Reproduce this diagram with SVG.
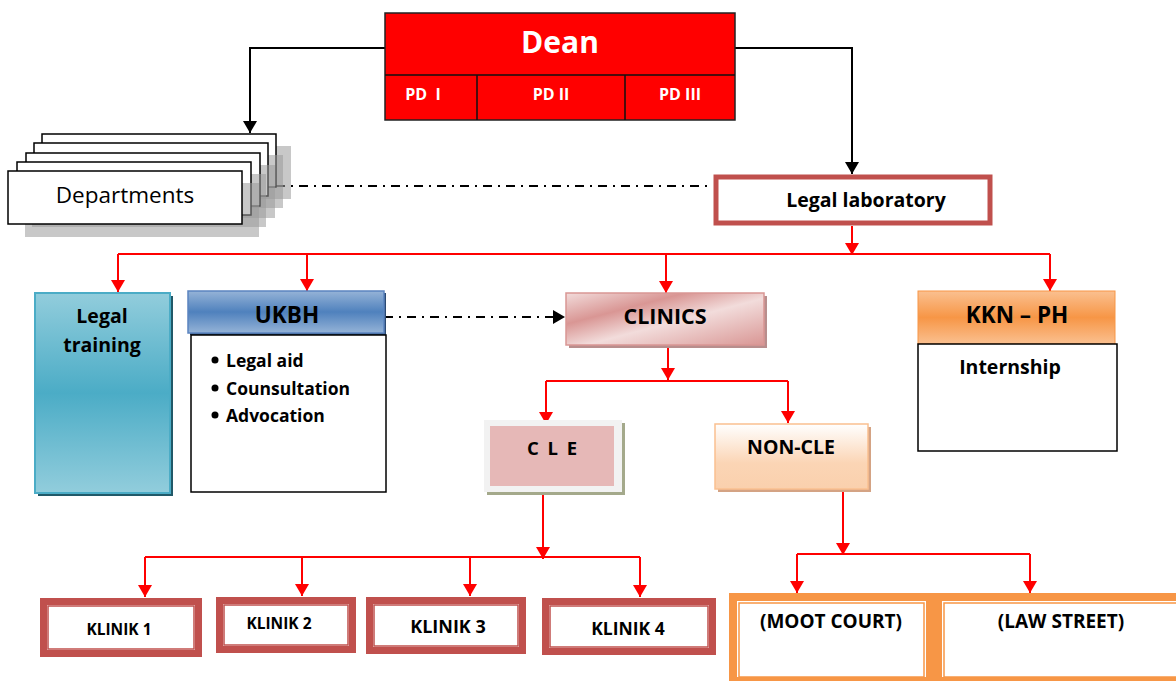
<svg xmlns="http://www.w3.org/2000/svg" width="1176" height="681" viewBox="0 0 1176 681">
<style>
text{font-family:"Open Sans","Liberation Sans",sans-serif;font-weight:bold;fill:#000;text-anchor:middle;dominant-baseline:central}
.w{fill:#fff}
.red{stroke:#ff0000;stroke-width:2;fill:none}
.blk{stroke:#000;stroke-width:2;fill:none}
.dd{stroke:#000;stroke-width:2;fill:none;stroke-dasharray:9 6 2 6}
.dep{fill:#fff;stroke:#000;stroke-width:1.5}
.sh{fill:#9a9a9a;opacity:0.55}
.kl{fill:#fff;stroke:#c0504d;stroke-width:7}
.kli{fill:none;stroke:#c0504d;stroke-width:1.5}
.oc{fill:#fff;stroke:#f79646;stroke-width:8}
.oci{fill:none;stroke:#f79646;stroke-width:1.5}
</style>
<defs>
<marker id="ar" viewBox="0 0 12 14" refX="12" refY="7" markerWidth="12" markerHeight="14" orient="auto" markerUnits="userSpaceOnUse"><path d="M0,0 L12,7 L0,14 z" fill="#ff0000"/></marker>
<marker id="ab" viewBox="0 0 12 14" refX="12" refY="7" markerWidth="12" markerHeight="14" orient="auto" markerUnits="userSpaceOnUse"><path d="M0,0 L12,7 L0,14 z" fill="#000"/></marker>
<linearGradient id="gTeal" x1="0" y1="0" x2="0" y2="1"><stop offset="0" stop-color="#92cddc"/><stop offset="0.5" stop-color="#4bacc6"/><stop offset="1" stop-color="#92cddc"/></linearGradient>
<linearGradient id="gBlue" x1="0" y1="0" x2="0" y2="1"><stop offset="0" stop-color="#95b3d7"/><stop offset="0.5" stop-color="#4f81bd"/><stop offset="1" stop-color="#95b3d7"/></linearGradient>
<linearGradient id="gPink" x1="0" y1="0" x2="1" y2="1"><stop offset="0" stop-color="#f2dcdb"/><stop offset="0.3" stop-color="#d99694"/><stop offset="0.55" stop-color="#f2dcdb"/><stop offset="1" stop-color="#d99694"/></linearGradient>
<linearGradient id="gPeach" x1="0" y1="0" x2="0" y2="1"><stop offset="0" stop-color="#ffffff"/><stop offset="0.6" stop-color="#fbd5b5"/><stop offset="1" stop-color="#fad0ad"/></linearGradient>
<linearGradient id="gOrange" x1="0" y1="0" x2="0" y2="1"><stop offset="0" stop-color="#fac090"/><stop offset="0.5" stop-color="#f79646"/><stop offset="1" stop-color="#fac090"/></linearGradient>
</defs>

<g id="connectors">
<path class="blk" d="M385,48 H250 V133" marker-end="url(#ab)"/>
<path class="blk" d="M735,48 H852 V174" marker-end="url(#ab)"/>
<path class="dd" d="M276,186 H712"/>
<path class="dd" d="M384,317 H565" marker-end="url(#ab)"/>
<path class="red" d="M852,226 V255" marker-end="url(#ar)"/>
<path class="red" d="M118,254 H1050"/>
<path class="red" d="M118,254 V292" marker-end="url(#ar)"/>
<path class="red" d="M307,254 V291" marker-end="url(#ar)"/>
<path class="red" d="M666,254 V293" marker-end="url(#ar)"/>
<path class="red" d="M1050,254 V291" marker-end="url(#ar)"/>
<path class="red" d="M668,345 V380" marker-end="url(#ar)"/>
<path class="red" d="M546,381 H788"/>
<path class="red" d="M546,381 V424" marker-end="url(#ar)"/>
<path class="red" d="M788,381 V423" marker-end="url(#ar)"/>
<path class="red" d="M543,492 V559" marker-end="url(#ar)"/>
<path class="red" d="M145,557 H640"/>
<path class="red" d="M145,557 V597" marker-end="url(#ar)"/>
<path class="red" d="M302,557 V596" marker-end="url(#ar)"/>
<path class="red" d="M470,557 V596" marker-end="url(#ar)"/>
<path class="red" d="M640,557 V597" marker-end="url(#ar)"/>
<path class="red" d="M843,489 V555" marker-end="url(#ar)"/>
<path class="red" d="M797,554 H1030"/>
<path class="red" d="M797,554 V593" marker-end="url(#ar)"/>
<path class="red" d="M1030,554 V593" marker-end="url(#ar)"/>
</g>

<g id="dean">
<rect x="385" y="13" width="350" height="107" fill="#ff0000" stroke="#222" stroke-width="1.5"/>
<path d="M385,75 H735 M477,75 V120 M625,75 V120" stroke="#111" stroke-width="1.5" fill="none"/>
<text class="w" x="560" y="41" font-size="30">Dean</text>
<text class="w" x="423" y="94" font-size="16" style="white-space:pre">PD  I</text>
<text class="w" x="551" y="94" font-size="16">PD II</text>
<text class="w" x="680" y="94" font-size="16">PD III</text>
</g>

<g id="departments">
<rect class="sh" x="57" y="146" width="234" height="53"/>
<rect class="dep" x="42" y="134" width="234" height="53"/>
<rect class="sh" x="49" y="155" width="234" height="53"/>
<rect class="dep" x="34" y="143" width="234" height="53"/>
<rect class="sh" x="41" y="165" width="234" height="53"/>
<rect class="dep" x="26" y="153" width="234" height="53"/>
<rect class="sh" x="32" y="174" width="234" height="53"/>
<rect class="dep" x="17" y="162" width="234" height="53"/>
<rect class="sh" x="25" y="183" width="234" height="54"/>
<rect class="dep" x="8" y="171" width="234" height="53"/>
<text x="125" y="194" font-size="22.5" style="font-weight:normal">Departments</text>
</g>

<g id="legal-laboratory">
<rect x="716" y="177" width="274" height="46" fill="#fff" stroke="#c0504d" stroke-width="5"/>
<text x="866" y="199" font-size="19.5">Legal laboratory</text>
</g>

<g id="legal-training">
<rect x="38" y="296" width="135" height="200" fill="#215968"/>
<rect x="35" y="293" width="135" height="200" fill="url(#gTeal)" stroke="#4bacc6" stroke-width="2"/>
<text x="102" y="315" font-size="19.5">Legal</text>
<text x="102" y="344" font-size="19.5">training</text>
</g>

<g id="ukbh">
<rect x="190" y="293" width="196" height="42" fill="#2b4a73"/>
<rect x="188" y="291" width="196" height="42" fill="url(#gBlue)" stroke="#5b84c0" stroke-width="1.5"/>
<text x="287" y="314" font-size="22.5">UKBH</text>
<rect x="191" y="335" width="195" height="157" fill="#fff" stroke="#000" stroke-width="1.5"/>
<circle cx="215" cy="360" r="3.5" fill="#000"/>
<circle cx="215" cy="388" r="3.5" fill="#000"/>
<circle cx="215" cy="415" r="3.5" fill="#000"/>
<text x="226" y="360" font-size="17.5" style="text-anchor:start">Legal aid</text>
<text x="226" y="388" font-size="17.5" style="text-anchor:start">Counsultation</text>
<text x="226" y="415" font-size="17.5" style="text-anchor:start">Advocation</text>
</g>

<g id="clinics">
<rect x="569" y="296" width="198" height="52" fill="#b88e8d"/>
<rect x="566" y="293" width="198" height="52" fill="url(#gPink)" stroke="#d99694" stroke-width="1.5"/>
<text x="665" y="315" font-size="21.5">CLINICS</text>
</g>

<g id="cle">
<rect x="487" y="423" width="138" height="72" fill="#a4a98b"/>
<rect x="484" y="420" width="138" height="72" fill="#f2f2f2"/>
<rect x="490" y="426" width="124" height="60" fill="#e6b8b7"/>
<text x="553" y="447" font-size="18.5" letter-spacing="2">C L E</text>
</g>

<g id="non-cle">
<rect x="718" y="427" width="153" height="65" fill="#d4a384"/>
<rect x="715" y="424" width="153" height="65" fill="url(#gPeach)" stroke="#fac090" stroke-width="1.5"/>
<text x="791" y="446" font-size="19.5">NON-CLE</text>
</g>

<g id="kkn-ph">
<rect x="918" y="291" width="197" height="53" fill="url(#gOrange)" stroke="#f79646" stroke-width="1"/>
<text x="1017" y="314" font-size="22.5">KKN – PH</text>
<rect x="918" y="344" width="199" height="107" fill="#fff" stroke="#000" stroke-width="1.5"/>
<text x="1010" y="366" font-size="19.5">Internship</text>
</g>

<g id="klinik-1">
<rect class="kl" x="43.5" y="601.5" width="155" height="52"/>
<rect class="kli" x="48" y="606" width="146" height="43"/>
<text x="119" y="629" font-size="15.5">KLINIK 1</text>
</g>
<g id="klinik-2">
<rect class="kl" x="219.5" y="600.5" width="133" height="49"/>
<rect class="kli" x="224" y="605" width="124" height="40"/>
<text x="279" y="623" font-size="15.5">KLINIK 2</text>
</g>
<g id="klinik-3">
<rect class="kl" x="369.5" y="600.5" width="153" height="50"/>
<rect class="kli" x="374" y="605" width="144" height="41"/>
<text x="448" y="626" font-size="18">KLINIK 3</text>
</g>
<g id="klinik-4">
<rect class="kl" x="545.5" y="601.5" width="167" height="50"/>
<rect class="kli" x="550" y="606" width="158" height="41"/>
<text x="628" y="628" font-size="17.5">KLINIK 4</text>
</g>

<g id="moot-court">
<rect class="oc" x="733" y="597" width="197" height="84"/>
<rect class="oci" x="739" y="603" width="185" height="74"/>
<text x="831" y="621" font-size="19">(MOOT COURT)</text>
</g>
<g id="law-street">
<rect class="oc" x="938" y="597" width="242" height="84"/>
<rect class="oci" x="944" y="603" width="236" height="74"/>
<text x="1061" y="621" font-size="19">(LAW STREET)</text>
</g>
</svg>
